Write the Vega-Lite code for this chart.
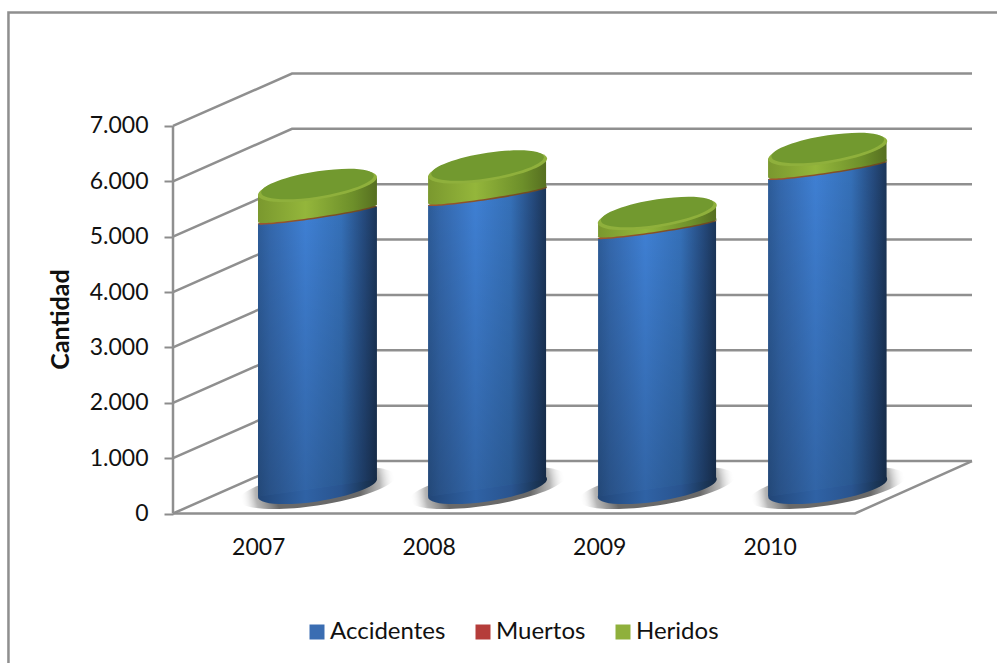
{"$schema":"https://vega.github.io/schema/vega-lite/v6.json","width":799,"height":440.5,"autosize":"none","padding":{"left":173,"top":73,"right":25,"bottom":149.5},"background":"white","config":{"view":{"stroke":null},"font":"Lato"},
"datasets":{
"paredes":[
{"nivel":"marco","pos":-0.965,"valor":-2700},{"nivel":"marco","pos":-0.965,"valor":9050},{"nivel":"marco","pos":4.84,"valor":9050},
{"nivel":"eje","pos":0,"valor":0},{"nivel":"eje","pos":0,"valor":7000},
{"nivel":"suelo","pos":0,"valor":0},{"nivel":"suelo","pos":4,"valor":0},{"nivel":"suelo","pos":4.686,"valor":948},
{"nivel":"0","pos":0,"valor":0},{"nivel":"0","pos":0.698,"valor":948},{"nivel":"0","pos":4.686,"valor":948},
{"nivel":"1","pos":0,"valor":1000},{"nivel":"1","pos":0.698,"valor":1948},{"nivel":"1","pos":4.686,"valor":1948},
{"nivel":"2","pos":0,"valor":2000},{"nivel":"2","pos":0.698,"valor":2948},{"nivel":"2","pos":4.686,"valor":2948},
{"nivel":"3","pos":0,"valor":3000},{"nivel":"3","pos":0.698,"valor":3948},{"nivel":"3","pos":4.686,"valor":3948},
{"nivel":"4","pos":0,"valor":4000},{"nivel":"4","pos":0.698,"valor":4948},{"nivel":"4","pos":4.686,"valor":4948},
{"nivel":"5","pos":0,"valor":5000},{"nivel":"5","pos":0.698,"valor":5948},{"nivel":"5","pos":4.686,"valor":5948},
{"nivel":"6","pos":0,"valor":6000},{"nivel":"6","pos":0.698,"valor":6948},{"nivel":"6","pos":4.686,"valor":6948},
{"nivel":"7","pos":0,"valor":7000},{"nivel":"7","pos":0.698,"valor":7948},{"nivel":"7","pos":4.686,"valor":7948}],
"cuerpos":[
{"anio":2007,"serie":"Accidentes","pos":0.4985,"desde":-154,"valor":4777},{"anio":2007,"serie":"Accidentes","pos":1.196,"desde":154,"valor":5085},
{"anio":2008,"serie":"Accidentes","pos":1.496,"desde":-154,"valor":5112},{"anio":2008,"serie":"Accidentes","pos":2.188,"desde":154,"valor":5420},
{"anio":2009,"serie":"Accidentes","pos":2.493,"desde":-154,"valor":4515},{"anio":2009,"serie":"Accidentes","pos":3.185,"desde":154,"valor":4823},
{"anio":2010,"serie":"Accidentes","pos":3.49,"desde":-154,"valor":5581},{"anio":2010,"serie":"Accidentes","pos":4.185,"desde":154,"valor":5889},
{"anio":2007,"serie":"Muertos","pos":0.4985,"desde":4777,"valor":4807},{"anio":2007,"serie":"Muertos","pos":1.196,"desde":5085,"valor":5115},
{"anio":2008,"serie":"Muertos","pos":1.496,"desde":5112,"valor":5142},{"anio":2008,"serie":"Muertos","pos":2.188,"desde":5420,"valor":5450},
{"anio":2009,"serie":"Muertos","pos":2.493,"desde":4515,"valor":4545},{"anio":2009,"serie":"Muertos","pos":3.185,"desde":4823,"valor":4853},
{"anio":2010,"serie":"Muertos","pos":3.49,"desde":5581,"valor":5611},{"anio":2010,"serie":"Muertos","pos":4.185,"desde":5889,"valor":5919},
{"anio":2007,"serie":"Heridos","pos":0.4985,"desde":4807,"valor":5301},{"anio":2007,"serie":"Heridos","pos":1.196,"desde":5115,"valor":5609},
{"anio":2008,"serie":"Heridos","pos":1.496,"desde":5142,"valor":5635},{"anio":2008,"serie":"Heridos","pos":2.188,"desde":5450,"valor":5943},
{"anio":2009,"serie":"Heridos","pos":2.493,"desde":4545,"valor":4795},{"anio":2009,"serie":"Heridos","pos":3.185,"desde":4853,"valor":5103},
{"anio":2010,"serie":"Heridos","pos":3.49,"desde":5611,"valor":5951},{"anio":2010,"serie":"Heridos","pos":4.185,"desde":5919,"valor":6259}],
"niveles":[
{"anio":2007,"serie":"Base","pos":0.8475,"valor":0},{"anio":2008,"serie":"Base","pos":1.845,"valor":0},{"anio":2009,"serie":"Base","pos":2.84,"valor":0},{"anio":2010,"serie":"Base","pos":3.84,"valor":0},
{"anio":2007,"serie":"Accidentes","pos":0.8475,"valor":4931},{"anio":2008,"serie":"Accidentes","pos":1.845,"valor":5266},{"anio":2009,"serie":"Accidentes","pos":2.84,"valor":4669},{"anio":2010,"serie":"Accidentes","pos":3.84,"valor":5735},
{"anio":2007,"serie":"Muertos","pos":0.8475,"valor":4961},{"anio":2008,"serie":"Muertos","pos":1.845,"valor":5296},{"anio":2009,"serie":"Muertos","pos":2.84,"valor":4699},{"anio":2010,"serie":"Muertos","pos":3.84,"valor":5765},
{"anio":2007,"serie":"Heridos","pos":0.8475,"valor":5455},{"anio":2008,"serie":"Heridos","pos":1.845,"valor":5789},{"anio":2009,"serie":"Heridos","pos":2.84,"valor":4949},{"anio":2010,"serie":"Heridos","pos":3.84,"valor":6105}]
},
"encoding":{
"x":{"field":"pos","type":"quantitative","scale":{"domain":[0,4.686],"nice":false,"zero":false},"axis":{"values":[0.5,1.5,2.5,3.5],"labelExpr":"'' + (datum.value + 2006.5)","title":null,"domain":false,"ticks":false,"grid":false,"labelFontSize":23,"labelFont":"Lato","labelColor":"#111111","labelPadding":23,"labelAngle":0}},
"y":{"field":"valor","type":"quantitative","stack":null,"scale":{"domain":[0,7957],"nice":false,"zero":false},"axis":{"values":[0,1000,2000,3000,4000,5000,6000,7000],"labelExpr":"replace(format(datum.value, ','), ',', '.')","title":"Cantidad","titleFont":"Lato","titleFontSize":25,"titleFontWeight":"bold","titleColor":"#111111","titleX":-100,"titleY":246,"domain":false,"grid":false,"tickSize":9,"tickColor":"#8c8c8c","tickWidth":2,"labelFontSize":23,"labelFont":"Lato","labelColor":"#111111","labelPadding":16}}
},
"layer":[
{"data":{"name":"paredes"},"mark":{"type":"line","stroke":"#8f8f8f","strokeWidth":2.5,"strokeJoin":"miter"},"encoding":{"detail":{"field":"nivel"},"order":{"value":0}}},
{"data":{"name":"niveles"},"transform":[{"filter":"datum.serie == 'Base'"}],"mark":{"type":"point","shape":"M1,-.15C1,-.2743,.5523,-.3078,0,-.225C-.5523,-.1422,-1,.0257,-1,.15C-1,.2743,-.5523,.3078,0,.225C.5523,.1422,1,-.0257,1,-.15Z","size":24336,"filled":true,"opacity":1,"strokeWidth":0,"yOffset":-25.5,"fill":{"gradient":"radial","stops":[{"offset":0.55,"color":"rgba(105,105,105,1)"},{"offset":0.8,"color":"rgba(150,150,150,0.7)"},{"offset":1,"color":"rgba(255,255,255,0)"}]}}},
{"data":{"name":"niveles"},"transform":[{"filter":"datum.serie == 'Base'"}],"mark":{"type":"point","shape":"M1,-.15C1,-.2743,.5523,-.3078,0,-.225C-.5523,-.1422,-1,.0257,-1,.15C-1,.2743,-.5523,.3078,0,.225C.5523,.1422,1,-.0257,1,-.15Z","size":14161,"filled":true,"opacity":1,"strokeWidth":0,"yOffset":-25.5,"fill":{"gradient":"linear","x1":0,"x2":1,"y1":0,"y2":0,"stops":[{"offset":0,"color":"#224677"},{"offset":0.4,"color":"#2f62a5"},{"offset":0.7,"color":"#29548f"},{"offset":0.9,"color":"#1b3759"},{"offset":1,"color":"#152a45"}]}}},
{"data":{"name":"cuerpos"},"transform":[{"filter":"datum.serie == 'Accidentes'"}],"mark":{"type":"area","orient":"vertical","yOffset":-25.5,"y2Offset":-25.5,"fill":{"gradient":"linear","x1":0,"x2":1,"y1":0,"y2":0,"stops":[{"offset":0,"color":"#2d5c99"},{"offset":0.1,"color":"#3468ad"},{"offset":0.4,"color":"#3f80d4"},{"offset":0.7,"color":"#3570b8"},{"offset":0.9,"color":"#24487a"},{"offset":1,"color":"#1b3558"}]}},"encoding":{"y2":{"field":"desde"},"detail":{"field":"anio"}}},
{"data":{"name":"cuerpos"},"transform":[{"filter":"datum.serie == 'Accidentes'"}],"mark":{"type":"area","orient":"vertical","yOffset":-25.5,"y2Offset":-25.5,"fill":{"gradient":"linear","x1":0,"x2":0,"y1":0,"y2":1,"stops":[{"offset":0,"color":"rgba(0,0,0,0)"},{"offset":1,"color":"rgba(0,0,0,0.22)"}]}},"encoding":{"y2":{"field":"desde"},"detail":{"field":"anio"}}},
{"data":{"name":"niveles"},"transform":[{"filter":"datum.serie == 'Accidentes'"}],"mark":{"type":"point","shape":"M1,-.15C1,-.1831,.5523,-.1428,0,-.06C-.5523,.0228,-1,.1169,-1,.15C-1,.1831,-.5523,.1428,0,.06C.5523,-.0228,1,-.1169,1,-.15Z","size":14161,"filled":true,"opacity":1,"strokeWidth":0,"yOffset":-25.5,"fill":{"gradient":"linear","x1":0,"x2":1,"y1":0,"y2":0,"stops":[{"offset":0,"color":"#a0552f"},{"offset":1,"color":"#6a4a20"}]}}},
{"data":{"name":"niveles"},"transform":[{"filter":"datum.serie == 'Muertos'"}],"mark":{"type":"point","shape":"M1,-.15C1,-.1831,.5523,-.1428,0,-.06C-.5523,.0228,-1,.1169,-1,.15C-1,.1831,-.5523,.1428,0,.06C.5523,-.0228,1,-.1169,1,-.15Z","size":14161,"filled":true,"opacity":1,"strokeWidth":0,"yOffset":-25.5,"fill":{"gradient":"linear","x1":0,"x2":1,"y1":0,"y2":0,"stops":[{"offset":0,"color":"#7a982e"},{"offset":0.4,"color":"#94b63b"},{"offset":0.8,"color":"#6d8f2a"},{"offset":1,"color":"#566f20"}]}}},
{"data":{"name":"cuerpos"},"transform":[{"filter":"datum.serie == 'Heridos'"}],"mark":{"type":"area","orient":"vertical","yOffset":-25.5,"y2Offset":-25.5,"fill":{"gradient":"linear","x1":0,"x2":1,"y1":0,"y2":0,"stops":[{"offset":0,"color":"#7a982e"},{"offset":0.4,"color":"#94b63b"},{"offset":0.8,"color":"#6d8f2a"},{"offset":1,"color":"#566f20"}]}},"encoding":{"y2":{"field":"desde"},"detail":{"field":"anio"}}},
{"data":{"name":"niveles"},"transform":[{"filter":"datum.serie == 'Heridos'"}],"mark":{"type":"point","shape":"M1,-.15C1,-.2743,.5523,-.3078,0,-.225C-.5523,-.1422,-1,.0257,-1,.15C-1,.2743,-.5523,.3078,0,.225C.5523,.1422,1,-.0257,1,-.15Z","size":14161,"filled":true,"opacity":1,"strokeWidth":0,"yOffset":-25.5},"encoding":{"color":{"field":"serie","type":"nominal","scale":{"domain":["Accidentes","Muertos","Heridos"],"range":["#3a6db2","#b53d3a","#8fb03c"]},"legend":{"title":null,"orient":"none","legendX":132,"legendY":547,"direction":"horizontal","columns":3,"symbolType":"square","symbolSize":225,"symbolStrokeWidth":0,"labelFontSize":24,"labelFont":"Lato","labelColor":"#111111","labelOffset":1,"columnPadding":25,"symbolOpacity":1}}}},
{"data":{"name":"niveles"},"transform":[{"filter":"datum.serie == 'Heridos'"}],"mark":{"type":"point","shape":"M1,-.15C1,-.2743,.5523,-.3078,0,-.225C-.5523,-.1422,-1,.0257,-1,.15C-1,.2743,-.5523,.3078,0,.225C.5523,.1422,1,-.0257,1,-.15Z","size":12700,"filled":true,"opacity":1,"strokeWidth":0,"yOffset":-27.5,"fill":"#72992f"}}
]}
